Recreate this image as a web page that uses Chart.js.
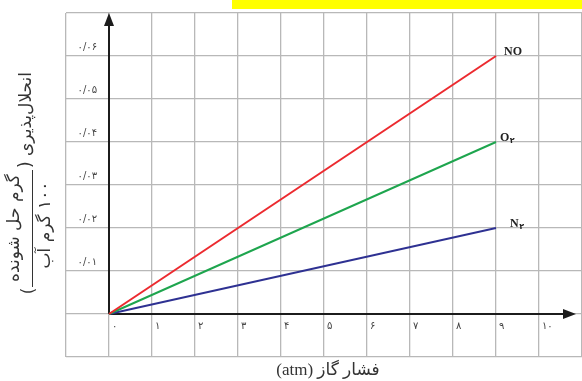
<!DOCTYPE html>
<html><head><meta charset="utf-8">
<script src="https://cdn.jsdelivr.net/npm/chart.js@4/dist/chart.umd.min.js"></script>
<style>html,body{margin:0;padding:0;background:#fff;overflow:hidden}#wrap{width:582px;height:381px;position:relative}</style>
</head><body><div id="wrap"><canvas id="c" width="582" height="381"></canvas></div>
<script>
const pressureAtm = [0, 9];
const solubilityNO = [0, 0.06];
const solubilityO2 = [0, 0.04];
const solubilityN2 = [0, 0.02];
const seriesNames = ['NO', 'O۲', 'N۲'];
const xTickValues = [0, 1, 2, 3, 4, 5, 6, 7, 8, 9, 10];
const xTickLabels = ['۰','۱','۲','۳','۴','۵','۶','۷','۸','۹','۱۰'];
const yTickValues = [0.01, 0.02, 0.03, 0.04, 0.05, 0.06];
const yTickLabels = ['۰/۰۱','۰/۰۲','۰/۰۳','۰/۰۴','۰/۰۵','۰/۰۶'];
const xAxisTitle = 'فشار گاز (atm)';
const yTitleMain = 'انحلال‌پذیری (';
const yTitleNumerator = 'گرم حل شونده';
const yTitleDenominator = '۱۰۰ گرم آب';
const yTitleClose = ')';

const seriesValues = [solubilityNO, solubilityO2, solubilityN2];
const seriesColors = ['#ec2a2f', '#1ea54e', '#2e3192'];
const labelOffsets = [[8, -4], [4, -4], [14, -4]];

const toPoints = vals => pressureAtm.map((x, i) => ({x: x, y: vals[i]}));

const deco = {
  id: 'deco',
  beforeDraw(chart) {
    const c = chart.ctx;
    c.save();
    c.fillStyle = '#ffffff';
    c.fillRect(0, 0, chart.width, chart.height);
    c.fillStyle = '#ffff00';
    c.fillRect(232, 0, 350, 9);
    c.restore();
  },
  beforeDatasetsDraw(chart) {
    const c = chart.ctx, xs = chart.scales.x, ys = chart.scales.y, a = chart.chartArea;
    const x0 = xs.getPixelForValue(0), y0 = ys.getPixelForValue(0);
    c.save();
    c.strokeStyle = '#1c1c1c';
    c.fillStyle = '#1c1c1c';
    c.lineWidth = 2;
    c.beginPath();
    c.moveTo(x0, y0); c.lineTo(x0, a.top + 10);
    c.moveTo(x0, y0); c.lineTo(a.right - 16, y0);
    c.stroke();
    c.beginPath();
    c.moveTo(x0, a.top); c.lineTo(x0 - 5, a.top + 13); c.lineTo(x0 + 5, a.top + 13); c.closePath();
    c.fill();
    c.beginPath();
    c.moveTo(a.right - 6, y0); c.lineTo(a.right - 19, y0 - 5); c.lineTo(a.right - 19, y0 + 5); c.closePath();
    c.fill();
    c.restore();
  },
  afterDraw(chart) {
    const c = chart.ctx, xs = chart.scales.x, ys = chart.scales.y;
    const x0 = xs.getPixelForValue(0), y0 = ys.getPixelForValue(0);
    c.save();
    c.fillStyle = '#444444';
    c.font = '10px "DejaVu Sans"';
    c.textBaseline = 'middle';
    c.textAlign = 'left';
    xTickValues.forEach((v, i) => {
      c.fillText(xTickLabels[i], xs.getPixelForValue(v) + 3, y0 + 12);
    });
    c.textAlign = 'right';
    yTickValues.forEach((v, i) => {
      c.fillText(yTickLabels[i], x0 - 12, ys.getPixelForValue(v) - 9);
    });
    // series labels
    c.fillStyle = '#222222';
    c.textAlign = 'left';
    seriesNames.forEach((name, i) => {
      const vals = seriesValues[i];
      const px = xs.getPixelForValue(pressureAtm[pressureAtm.length - 1]) + labelOffsets[i][0];
      const py = ys.getPixelForValue(vals[vals.length - 1]) + labelOffsets[i][1];
      const m = name.match(/^([A-Za-z]+)(.*)$/);
      c.font = 'bold 12px "Liberation Serif"';
      c.fillText(m[1], px, py);
      if (m[2]) {
        const w = c.measureText(m[1]).width;
        c.font = 'bold 8px "DejaVu Sans"';
        c.fillText(m[2], px + w + 0.5, py + 3);
      }
    });
    // x axis title
    c.fillStyle = '#333333';
    c.direction = 'rtl';
    c.textAlign = 'center';
    c.font = '17px "Liberation Serif", "DejaVu Sans"';
    c.fillText(xAxisTitle, 328, 371);
    // y axis title (rotated)
    const rot = (txt, x, y, font) => {
      c.save();
      c.translate(x, y);
      c.rotate(-Math.PI / 2);
      c.font = font;
      c.textAlign = 'center';
      c.textBaseline = 'middle';
      c.direction = 'rtl';
      c.fillText(txt, 0, 0);
      c.restore();
    };
    const f = '17px "DejaVu Sans"';
    rot(yTitleMain, 27, 120, f);
    rot(yTitleNumerator, 15, 228, f);
    rot(yTitleDenominator, 46, 225, f);
    rot(yTitleClose, 30, 291, f);
    c.strokeStyle = '#333333';
    c.lineWidth = 1;
    c.beginPath();
    c.moveTo(32.5, 170); c.lineTo(32.5, 287);
    c.stroke();
    c.restore();
  }
};

new Chart(document.getElementById('c'), {
  type: 'line',
  data: {
    datasets: seriesNames.map((n, i) => ({
      label: n,
      data: toPoints(seriesValues[i]),
      borderColor: seriesColors[i],
      borderWidth: 2,
      pointRadius: 0,
      fill: false,
      tension: 0
    }))
  },
  options: {
    responsive: false,
    animation: false,
    layout: {padding: {left: 66, top: 13, right: 0, bottom: 24}},
    plugins: {legend: {display: false}, tooltip: {enabled: false}},
    scales: {
      x: {
        type: 'linear', min: -1, max: 11,
        ticks: {stepSize: 1, display: false},
        grid: {color: '#b8b8b8', lineWidth: 1.3, drawTicks: false},
        border: {display: false}
      },
      y: {
        type: 'linear', min: -0.01, max: 0.07,
        ticks: {stepSize: 0.01, display: false},
        grid: {color: '#b8b8b8', lineWidth: 1.3, drawTicks: false},
        border: {display: false}
      }
    }
  },
  plugins: [deco]
});
</script>
</body></html>
